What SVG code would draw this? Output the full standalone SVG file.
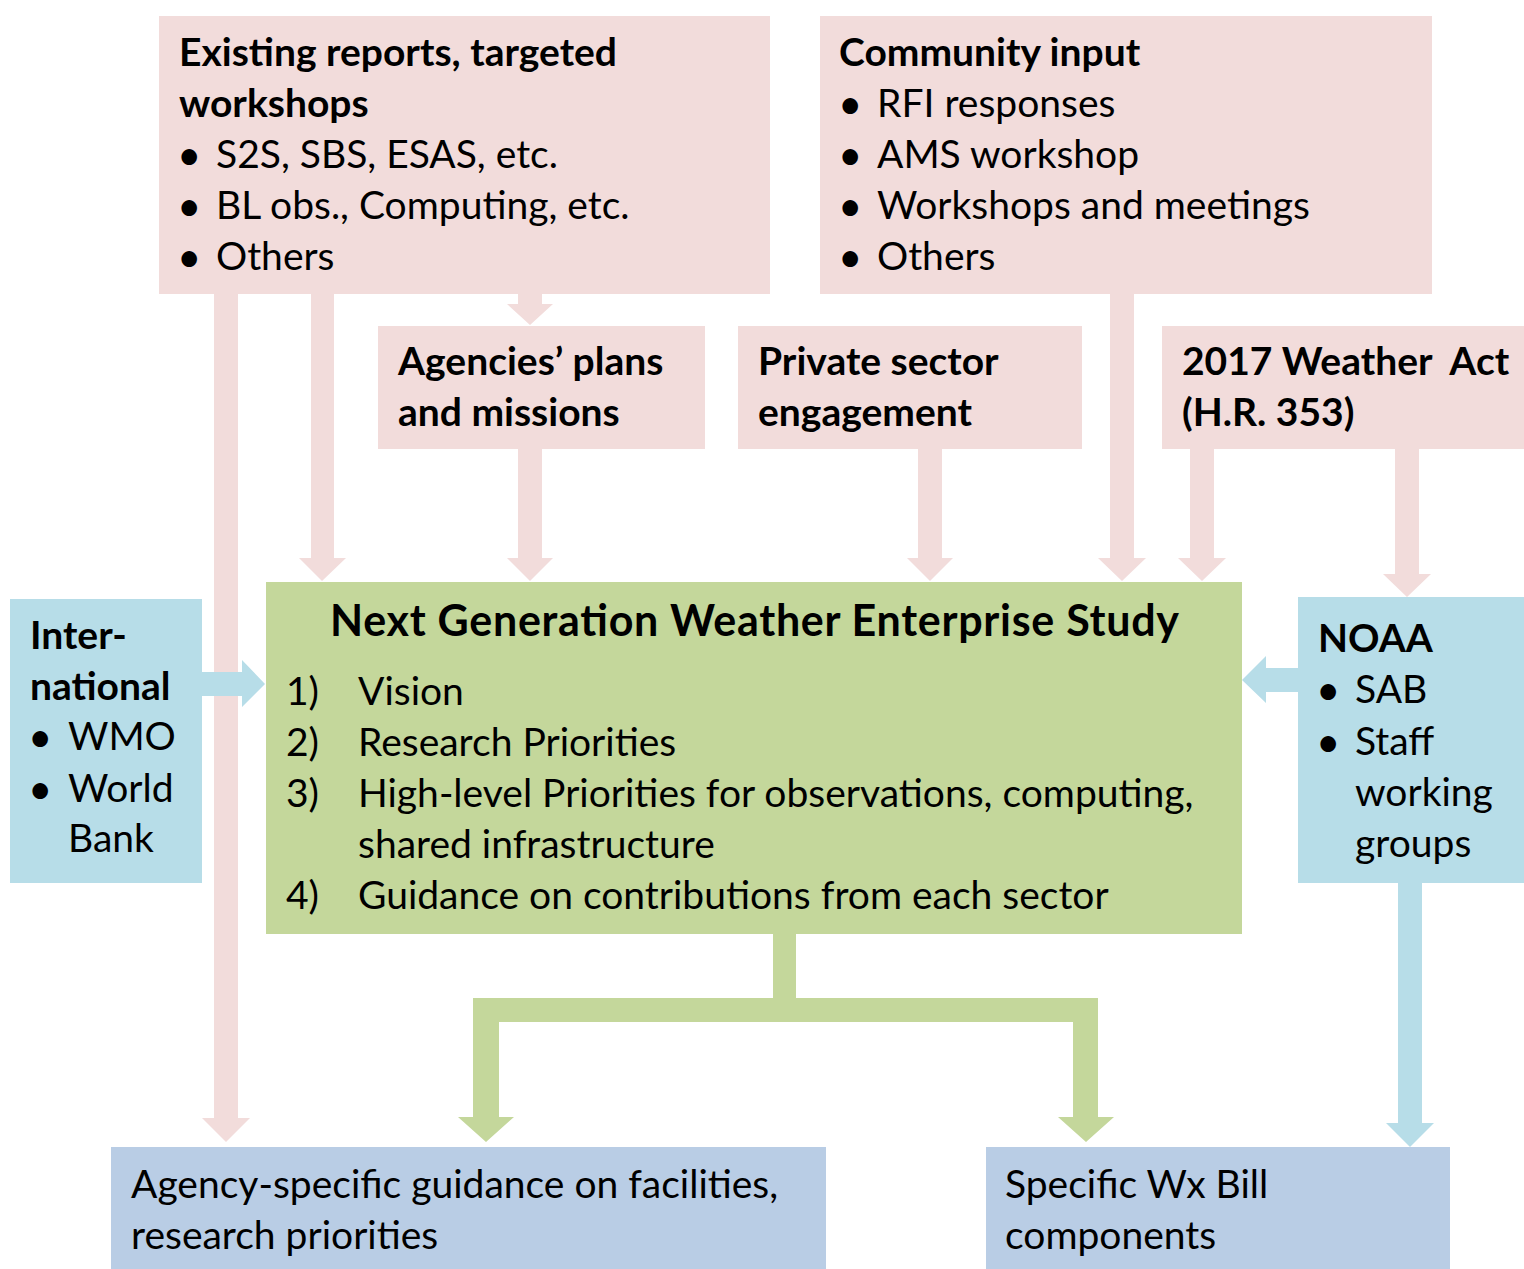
<svg xmlns="http://www.w3.org/2000/svg" width="1524" height="1269" viewBox="0 0 1524 1269">
<style>
.pink{fill:#F2DCDB}
.green{fill:#C4D79B}
.blue{fill:#B7DDE8}
.steel{fill:#B9CDE5}
text{font-family:Lato,"Open Sans","Liberation Sans",sans-serif;font-size:39px;fill:#000}
.b{font-weight:bold}
.bul{font-size:42px}
.title{font-size:43px}
</style>
<rect width="1524" height="1269" fill="#fff"/>
<g id="connectors">
  <path class="pink" d="M214,294 L238,294 L238,1118 L250,1118 L226,1142 L202,1118 L214,1118 Z"/>
  <path class="pink" d="M311,294 L334,294 L334,558 L346,558 L322,581 L299,558 L311,558 Z"/>
  <path class="pink" d="M518,294 L542,294 L542,304 L553,304 L530,325 L507,304 L518,304 Z"/>
  <path class="pink" d="M518,449 L542,449 L542,558 L553,558 L530,581 L507,558 L518,558 Z"/>
  <path class="pink" d="M918,449 L942,449 L942,558 L953,558 L930,581 L907,558 L918,558 Z"/>
  <path class="pink" d="M1110,294 L1134,294 L1134,558 L1146,558 L1122,581 L1098,558 L1110,558 Z"/>
  <path class="pink" d="M1190,449 L1214,449 L1214,558 L1226,558 L1202,581 L1178,558 L1190,558 Z"/>
  <path class="pink" d="M1395,449 L1419,449 L1419,574 L1431,574 L1407,597 L1383,574 L1395,574 Z"/>
  <path class="blue" d="M202,672 L242,672 L242,660 L265,684 L242,707 L242,696 L202,696 Z"/>
  <path class="blue" d="M1298,668 L1266,668 L1266,656 L1242,680 L1266,703 L1266,692 L1298,692 Z"/>
  <path class="blue" d="M1398,883 L1422,883 L1422,1123 L1434,1123 L1410,1147 L1386,1123 L1398,1123 Z"/>
  <path class="green" d="M773,934 L796,934 L796,998 L1098,998 L1098,1117 L1114,1117 L1086,1142 L1058,1117 L1073,1117 L1073,1022 L499,1022 L499,1117 L514,1117 L486,1142 L458,1117 L473,1117 L473,998 L773,998 Z"/>
</g>
<g id="existing">
  <rect class="pink" x="159" y="16" width="611" height="278"/>
  <text class="b" x="179" y="66">Existing reports, targeted</text>
  <text class="b" x="179" y="117">workshops</text>
  <text class="bul" x="177" y="170">•</text><text x="216" y="168">S2S, SBS, ESAS, etc.</text>
  <text class="bul" x="177" y="221">•</text><text x="216" y="219">BL obs., Computing, etc.</text>
  <text class="bul" x="177" y="272">•</text><text x="216" y="270">Others</text>
</g>
<g id="community">
  <rect class="pink" x="820" y="16" width="612" height="278"/>
  <text class="b" x="839" y="66">Community input</text>
  <text class="bul" x="838" y="119">•</text><text x="877" y="117">RFI responses</text>
  <text class="bul" x="838" y="170">•</text><text x="877" y="168">AMS workshop</text>
  <text class="bul" x="838" y="221">•</text><text x="877" y="219">Workshops and meetings</text>
  <text class="bul" x="838" y="272">•</text><text x="877" y="270">Others</text>
</g>
<g id="agencies">
  <rect class="pink" x="378" y="326" width="327" height="123"/>
  <text class="b" x="398" y="375">Agencies’ plans</text>
  <text class="b" x="398" y="426">and missions</text>
</g>
<g id="private">
  <rect class="pink" x="738" y="326" width="344" height="123"/>
  <text class="b" x="758" y="375">Private sector</text>
  <text class="b" x="758" y="426">engagement</text>
</g>
<g id="weatheract">
  <rect class="pink" x="1162" y="326" width="362" height="123"/>
  <text class="b" x="1182" y="375" xml:space="preserve">2017 Weather  Act</text>
  <text class="b" x="1182" y="426">(H.R. 353)</text>
</g>
<g id="international">
  <rect class="blue" x="10" y="599" width="192" height="284"/>
  <text class="b" x="30" y="649">Inter-</text>
  <text class="b" x="30" y="700">national</text>
  <text class="bul" x="28" y="752">•</text><text x="68" y="750">WMO</text>
  <text class="bul" x="28" y="804">•</text><text x="68" y="802">World</text>
  <text x="68" y="852">Bank</text>
</g>
<g id="noaa">
  <rect class="blue" x="1298" y="597" width="226" height="286"/>
  <text class="b" x="1318" y="652">NOAA</text>
  <text class="bul" x="1316" y="705">•</text><text x="1355" y="703">SAB</text>
  <text class="bul" x="1316" y="757">•</text><text x="1355" y="755">Staff</text>
  <text x="1355" y="806">working</text>
  <text x="1355" y="857">groups</text>
</g>
<g id="study">
  <rect class="green" x="266" y="582" width="976" height="352"/>
  <text class="b title" x="330" y="636" textLength="849" lengthAdjust="spacing">Next Generation Weather Enterprise Study</text>
  <text x="286" y="705">1)</text><text x="358" y="705">Vision</text>
  <text x="286" y="756">2)</text><text x="358" y="756">Research Priorities</text>
  <text x="286" y="807">3)</text><text x="358" y="807">High-level Priorities for observations, computing,</text>
  <text x="358" y="858">shared infrastructure</text>
  <text x="286" y="909">4)</text><text x="358" y="909">Guidance on contributions from each sector</text>
</g>
<g id="agencyguidance">
  <rect class="steel" x="111" y="1147" width="715" height="122"/>
  <text x="131" y="1198">Agency-specific guidance on facilities,</text>
  <text x="131" y="1249">research priorities</text>
</g>
<g id="wxbill">
  <rect class="steel" x="986" y="1147" width="464" height="122"/>
  <text x="1005" y="1198">Specific Wx Bill</text>
  <text x="1005" y="1249">components</text>
</g>
</svg>
